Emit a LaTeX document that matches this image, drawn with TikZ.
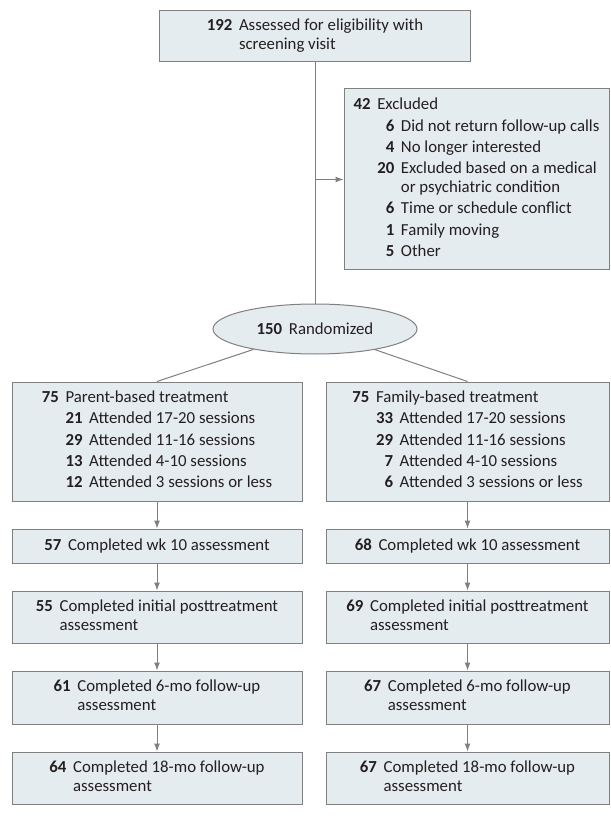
\documentclass[tikz,border=0pt]{standalone}
\usepackage{fontspec}
\setmainfont{Carlito}
\usepackage{tikz}
\usetikzlibrary{shapes, arrows.meta, positioning}

\definecolor{boxfill}{HTML}{E5ECEF}
\definecolor{boxline}{HTML}{808080}
\definecolor{inkcol}{HTML}{231F20}

\tikzset{
  box/.style={rectangle, draw=boxline, fill=boxfill, line width=0.75pt, inner sep=0pt, align=center, text=inkcol},
  armbox/.style={box, minimum width=217.5pt},
  armboxr/.style={box, minimum width=212.25pt},
  conn/.style={draw=boxline, line width=0.75pt},
}

\begin{document}
\begin{tikzpicture}[x=0.75pt, y=-0.75pt, font=\fontsize{12.6}{14}\selectfont, >={Latex[length=6pt, width=4.5pt]}]
\useasboundingbox (0,0) rectangle (610,816);

\node[box, minimum width=233.25pt, minimum height=38.25pt] (screen) at (315,36.5) {\begin{tabular}{@{}r@{\hspace{5pt}}l@{}}\textbf{192} & Assessed for eligibility with\\ & screening visit\end{tabular}};

\node[box, minimum width=198.75pt, minimum height=135.75pt] (excl) at (476.5,179.5) {\begin{tabular}{@{}r@{\hspace{5pt}}r@{\hspace{5pt}}l@{}}
\textbf{42} & \multicolumn{2}{@{}l@{}}{Excluded}\\[2pt]
 & \textbf{6} & Did not return follow-up calls\\[2pt]
 & \textbf{4} & No longer interested\\[2pt]
 & \textbf{20} & Excluded based on a medical\\
 & & or psychiatric condition\\[2pt]
 & \textbf{6} & Time or schedule conflict\\[2pt]
 & \textbf{1} & Family moving\\[2pt]
 & \textbf{5} & Other
\end{tabular}};

\node[ellipse, draw=boxline, fill=boxfill, line width=0.75pt, inner sep=0pt, text=inkcol, minimum width=153pt, minimum height=37.5pt] (rand) at (315,329) {\textbf{150}\hspace{5pt}Randomized};

% parent-based arm
\node[armbox, minimum height=89.25pt] (pbt) at (157,441.5) {\begin{tabular}{@{}r@{\hspace{5pt}}r@{\hspace{5pt}}l@{}}
\textbf{75} & \multicolumn{2}{@{}l@{}}{Parent-based treatment}\\[2pt]
 & \textbf{21} & Attended 17-20 sessions\\[2pt]
 & \textbf{29} & Attended 11-16 sessions\\[2pt]
 & \textbf{13} & Attended 4-10 sessions\\[2pt]
 & \textbf{12} & Attended 3 sessions or less
\end{tabular}};
\node[armbox, minimum height=25.5pt, below=20.25pt of pbt] (p10) {\textbf{57}\hspace{5pt}Completed wk 10 assessment};
\node[armbox, minimum height=39pt, below=20.25pt of p10] (ppost) {\begin{tabular}{@{}r@{\hspace{5pt}}l@{}}\textbf{55} & Completed initial posttreatment\\ & assessment\end{tabular}};
\node[armbox, minimum height=39.75pt, below=20.25pt of ppost] (p6) {\begin{tabular}{@{}r@{\hspace{5pt}}l@{}}\textbf{61} & Completed 6-mo follow-up\\ & assessment\end{tabular}};
\node[armbox, minimum height=39pt, below=20.25pt of p6] (p18) {\begin{tabular}{@{}r@{\hspace{5pt}}l@{}}\textbf{64} & Completed 18-mo follow-up\\ & assessment\end{tabular}};

% family-based arm
\node[armboxr, minimum height=89.25pt] (fbt) at (467.5,441.5) {\begin{tabular}{@{}r@{\hspace{5pt}}r@{\hspace{5pt}}l@{}}
\textbf{75} & \multicolumn{2}{@{}l@{}}{Family-based treatment}\\[2pt]
 & \textbf{33} & Attended 17-20 sessions\\[2pt]
 & \textbf{29} & Attended 11-16 sessions\\[2pt]
 & \textbf{7} & Attended 4-10 sessions\\[2pt]
 & \textbf{6} & Attended 3 sessions or less
\end{tabular}};
\node[armboxr, minimum height=25.5pt, below=20.25pt of fbt] (f10) {\textbf{68}\hspace{5pt}Completed wk 10 assessment};
\node[armboxr, minimum height=39pt, below=20.25pt of f10] (fpost) {\begin{tabular}{@{}r@{\hspace{5pt}}l@{}}\textbf{69} & Completed initial posttreatment\\ & assessment\end{tabular}};
\node[armboxr, minimum height=39.75pt, below=20.25pt of fpost] (f6) {\begin{tabular}{@{}r@{\hspace{5pt}}l@{}}\textbf{67} & Completed 6-mo follow-up\\ & assessment\end{tabular}};
\node[armboxr, minimum height=39pt, below=20.25pt of f6] (f18) {\begin{tabular}{@{}r@{\hspace{5pt}}l@{}}\textbf{67} & Completed 18-mo follow-up\\ & assessment\end{tabular}};

\coordinate (exclin) at (screen.south |- excl.west);
\draw[conn] (screen) -- (rand);
\draw[conn, ->] (exclin) -- (excl);
\draw[conn] (rand) -- (pbt.north);
\draw[conn] (rand) -- (fbt.north);

\foreach \a/\b in {pbt/p10, p10/ppost, ppost/p6, p6/p18, fbt/f10, f10/fpost, fpost/f6, f6/f18}
  \draw[conn, ->] (\a) -- (\b);
\end{tikzpicture}
\end{document}
